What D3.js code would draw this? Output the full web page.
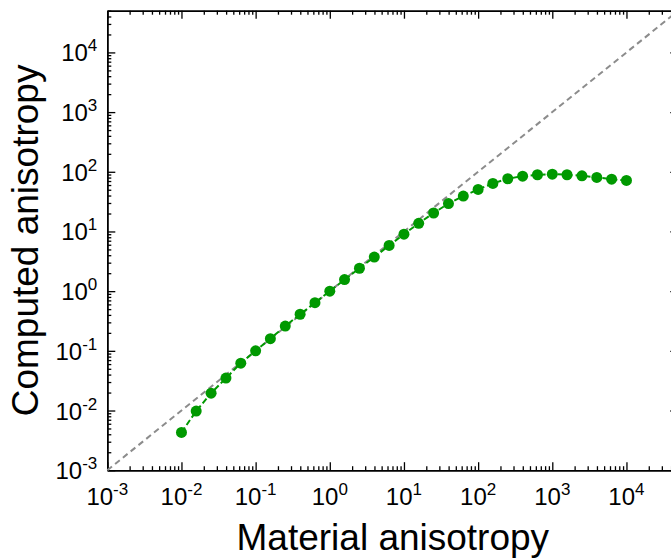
<!DOCTYPE html>
<html>
<head>
<meta charset="utf-8">
<script src="https://cdn.jsdelivr.net/npm/d3@7"></script>
<style>
  body { margin: 0; background: #ffffff; }
  text { font-family: 'Liberation Sans', Arial, sans-serif; fill: #000000; }
</style>
</head>
<body>
<div id="container"></div>
<script>
// material anisotropy (x) and computed anisotropy (y)
var materialValues = [0.01, 0.0158, 0.0251, 0.0398, 0.0631, 0.1, 0.158, 0.251, 0.398, 0.631,
    1, 1.58, 2.51, 3.98, 6.31, 10, 15.8, 25.1, 39.8, 63.1,
    100, 158, 251, 398, 631, 1000, 1580, 2510, 3980, 6310, 10000]
var computedValues = [0.0043, 0.0098, 0.0195, 0.035, 0.062, 0.10, 0.16, 0.26, 0.41, 0.64,
    1.0, 1.56, 2.42, 3.73, 5.84, 9.0, 13.7, 20.4, 29.3, 39.2,
    50.7, 63.8, 76.4, 84.5, 89.2, 91.3, 89.2, 85.7, 80.4, 75.3, 71.6]

// decade exponents used for tick labels
var xTickExponents = [-3, -2, -1, 0, 1, 2, 3, 4]
var yTickExponents = [-3, -2, -1, 0, 1, 2, 3, 4]
var axisDomain = [1e-3, 5e4]

var xTitle = 'Material anisotropy'
var yTitle = 'Computed anisotropy'

var svgWidth = 671
var svgHeight = 559
var margin = { left: 107.3, top: 10.7 }
var plotWidth = 571
var plotHeight = 459.5

var svgContainer = d3.select('#container').append('svg')
    .attr('width', svgWidth)
    .attr('height', svgHeight)

var plot = svgContainer.append('g')
    .attr('transform', 'translate(' + margin.left + ',' + margin.top + ')')

var xScale = d3.scaleLog().domain(axisDomain).range([0, plotWidth])
var yScale = d3.scaleLog().domain(axisDomain).range([plotHeight, 0])

function majorTicks(){
    var result = []
    for(var e = -3; e <= 4; e++) result.push(Math.pow(10, e))
    return result
}

function minorTicks(){
    var result = []
    for(var e = -3; e <= 4; e++){
        for(var m = 2; m <= 9; m++){
            var v = m * Math.pow(10, e)
            if(v <= axisDomain[1]) result.push(v)
        }
    }
    return result
}

function styleAxis(g){
    g.selectAll('path').attr('stroke', '#000').attr('stroke-width', 1.5)
    g.selectAll('line').attr('stroke', '#000').attr('stroke-width', 1.3)
}

function drawAxis(axisFn, scale, transform){
    var major = axisFn(scale).tickValues(majorTicks()).tickFormat('')
        .tickSizeInner(-8).tickSizeOuter(0)
    var minor = axisFn(scale).tickValues(minorTicks()).tickFormat('')
        .tickSizeInner(-4).tickSizeOuter(0)
    plot.append('g').attr('transform', transform).call(minor).call(styleAxis)
    plot.append('g').attr('transform', transform).call(major).call(styleAxis)
}

drawAxis(d3.axisBottom, xScale, 'translate(0,' + plotHeight + ')')
drawAxis(d3.axisTop, xScale, 'translate(0,0)')
drawAxis(d3.axisLeft, yScale, 'translate(0,0)')
drawAxis(d3.axisRight, yScale, 'translate(' + plotWidth + ',0)')

function expText(d){ return d < 0 ? '-' + Math.abs(d) : d }

// tick labels with superscript exponents
var xLabels = plot.selectAll('text.xlabel')
    .data(xTickExponents)
    .enter()
    .append('text')
    .attr('class', 'xlabel')
    .attr('x', function(d){ return xScale(Math.pow(10, d)) })
    .attr('y', plotHeight + 35)
    .attr('text-anchor', 'middle')
    .attr('font-size', 24)
xLabels.append('tspan').text('10')
xLabels.append('tspan').attr('dy', -10).attr('font-size', 17).text(expText)

var yLabels = plot.selectAll('text.ylabel')
    .data(yTickExponents)
    .enter()
    .append('text')
    .attr('class', 'ylabel')
    .attr('x', -10)
    .attr('y', function(d){ return yScale(Math.pow(10, d)) + 9 })
    .attr('text-anchor', 'end')
    .attr('font-size', 24)
yLabels.append('tspan').text('10')
yLabels.append('tspan').attr('dy', -10).attr('font-size', 17).text(expText)

// y = x reference line
plot.append('line')
    .attr('x1', xScale(axisDomain[0]))
    .attr('y1', yScale(axisDomain[0]))
    .attr('x2', xScale(axisDomain[1]))
    .attr('y2', yScale(axisDomain[1]))
    .attr('stroke', '#8c8c8c')
    .attr('stroke-width', 2)
    .attr('stroke-dasharray', '6,4')

var points = materialValues.map(function(x, i){ return [x, computedValues[i]] })

var line = d3.line()
    .x(function(d){ return xScale(d[0]) })
    .y(function(d){ return yScale(d[1]) })

plot.append('path')
    .datum(points)
    .attr('d', line)
    .attr('fill', 'none')
    .attr('stroke', '#009900')
    .attr('stroke-width', 2)
    .attr('stroke-dasharray', '6,3')

plot.selectAll('circle')
    .data(points)
    .enter()
    .append('circle')
    .attr('cx', function(d){ return xScale(d[0]) })
    .attr('cy', function(d){ return yScale(d[1]) })
    .attr('r', 5.5)
    .attr('fill', '#009900')

// axis titles
svgContainer.append('text')
    .attr('x', margin.left + plotWidth / 2)
    .attr('y', 550)
    .attr('text-anchor', 'middle')
    .attr('font-size', 37)
    .text(xTitle)

svgContainer.append('text')
    .attr('transform', 'translate(38,' + (margin.top + plotHeight / 2) + ') rotate(-90)')
    .attr('text-anchor', 'middle')
    .attr('font-size', 37)
    .text(yTitle)
</script>
</body>
</html>
